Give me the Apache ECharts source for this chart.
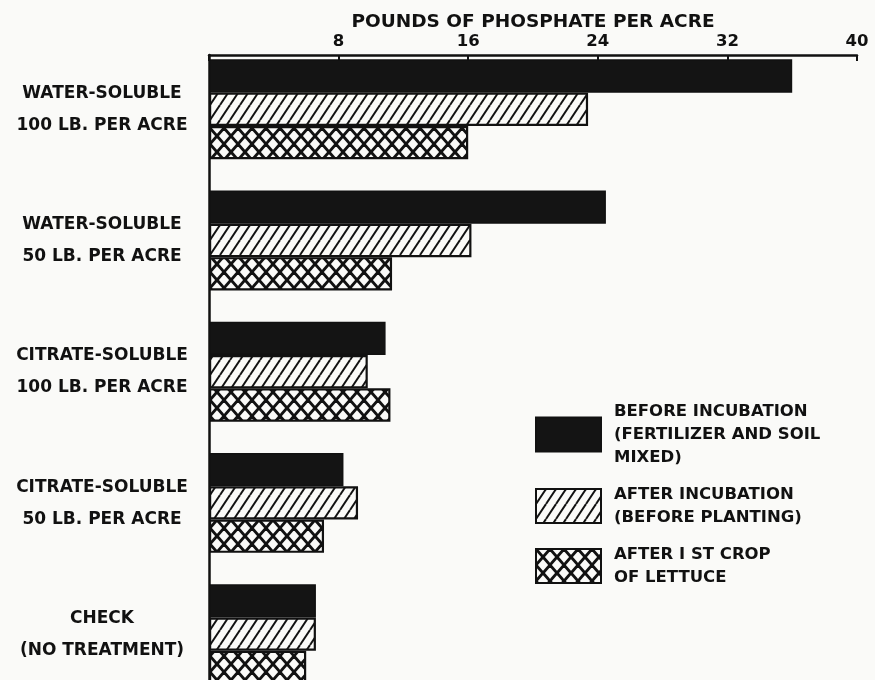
<!DOCTYPE html>
<html>
<head>
<meta charset="utf-8">
<script src="https://cdn.jsdelivr.net/npm/echarts@6/dist/echarts.min.js"></script>
<style>
html,body{margin:0;padding:0;background:#fafaf8;}
#chart{width:875px;height:680px;}
</style>
</head>
<body>
<div id="chart"></div>
<script>
// ---- data ----
const categories = [
  'WATER-SOLUBLE\n100 LB. PER ACRE',
  'WATER-SOLUBLE\n50 LB. PER ACRE',
  'CITRATE-SOLUBLE\n100 LB. PER ACRE',
  'CITRATE-SOLUBLE\n50 LB. PER ACRE',
  'CHECK\n(NO TREATMENT)'
];
const seriesNames = [
  'BEFORE INCUBATION\n(FERTILIZER AND SOIL\nMIXED)',
  'AFTER INCUBATION\n(BEFORE PLANTING)',
  'AFTER I ST CROP\nOF LETTUCE'
];
const beforeIncubation = [36.0, 24.5, 10.9, 8.3, 6.6];
const afterIncubation  = [23.4, 16.2, 9.8, 9.2, 6.6];
const afterCrop        = [16.0, 11.3, 11.2, 7.1, 6.0];
const axisTitle = 'POUNDS OF PHOSPHATE PER ACRE';
const xMin = 0, xMax = 40, xStep = 8;

// ---- patterns ----
const BG = '#fafaf8';
function makeHatch() {
  const W = 10, H = 15;
  const c = document.createElement('canvas');
  c.width = W; c.height = H;
  const g = c.getContext('2d');
  g.fillStyle = BG; g.fillRect(0, 0, W, H);
  g.strokeStyle = '#111'; g.lineWidth = 2;
  for (const o of [-W, 0, W]) {
    g.beginPath(); g.moveTo(o, H); g.lineTo(o + W, 0); g.stroke();
  }
  return c;
}
function makeCross() {
  const W = 14, H = 16;
  const c = document.createElement('canvas');
  c.width = W; c.height = H;
  const g = c.getContext('2d');
  g.fillStyle = BG; g.fillRect(0, 0, W, H);
  g.strokeStyle = '#111'; g.lineWidth = 2.8;
  for (const o of [-W, 0, W]) {
    g.beginPath(); g.moveTo(o, H); g.lineTo(o + W, 0); g.stroke();
    g.beginPath(); g.moveTo(o, 0); g.lineTo(o + W, H); g.stroke();
  }
  return c;
}
const hatchPattern = { image: makeHatch(), repeat: 'repeat' };
const crossPattern = { image: makeCross(), repeat: 'repeat' };

const FONT = 'DejaVu Sans';
const barW = 33.3;

const chart = echarts.init(document.getElementById('chart'), null, { renderer: 'canvas' });
chart.setOption({
  backgroundColor: BG,
  animation: false,
  textStyle: { fontFamily: FONT, color: '#111' },
  grid: { left: 209, right: 18, top: 55, height: 656, containLabel: false, outerBoundsMode: 'none' },
  legend: {
    orient: 'vertical',
    left: 535,
    top: 400,
    padding: 0,
    itemWidth: 65,
    itemHeight: 34,
    itemGap: 14,
    icon: 'rect',
    selectedMode: false,
    data: seriesNames,
    textStyle: { fontFamily: FONT, fontWeight: 'bold', fontSize: 16.5, lineHeight: 23, color: '#111', padding: [0, 0, 0, 8] }
  },
  xAxis: {
    type: 'value',
    position: 'top',
    min: xMin, max: xMax, interval: xStep,
    name: axisTitle,
    nameLocation: 'middle',
    nameGap: 23,
    nameMoveOverlap: false,
    nameTextStyle: { fontFamily: FONT, fontWeight: 'bold', fontSize: 18.5, color: '#111' },
    axisLine: { show: true, lineStyle: { color: '#111', width: 2.5 } },
    axisTick: { show: true, inside: true, length: 6, lineStyle: { color: '#111', width: 2 } },
    axisLabel: {
      margin: 5, fontFamily: FONT, fontWeight: 'bold', fontSize: 16.5, color: '#111',
      formatter: v => (v === 0 ? '' : String(v))
    },
    splitLine: { show: false }
  },
  yAxis: {
    type: 'category',
    inverse: true,
    data: categories,
    axisLine: { show: true, lineStyle: { color: '#111', width: 2.5 } },
    axisTick: { show: false },
    axisLabel: {
      align: 'center', margin: 107, fontFamily: FONT, fontWeight: 'bold',
      fontSize: 17, lineHeight: 32, color: '#111',
      // trailing spacer line lifts the two text lines to the middle of the bar group
      formatter: v => v + '\n{pad| }',
      rich: { pad: { lineHeight: 22, fontSize: 4 } }
    }
  },
  series: [
    {
      name: seriesNames[0], type: 'bar', data: beforeIncubation, barWidth: barW, barGap: '0%',
      itemStyle: { color: '#141414', borderColor: '#111', borderWidth: 1.5 }
    },
    {
      name: seriesNames[1], type: 'bar', data: afterIncubation, barWidth: barW, barGap: '0%',
      itemStyle: { color: hatchPattern, borderColor: '#111', borderWidth: 2.2 }
    },
    {
      name: seriesNames[2], type: 'bar', data: afterCrop, barWidth: barW, barGap: '0%',
      itemStyle: { color: crossPattern, borderColor: '#111', borderWidth: 2.2 }
    },
    {
      // empty spacer column keeping each group at the top of its band
      name: '', type: 'bar', data: categories.map(() => null), barWidth: 22.6, barGap: '0%',
      silent: true, itemStyle: { color: 'transparent' }
    }
  ]
});
</script>
</body>
</html>
